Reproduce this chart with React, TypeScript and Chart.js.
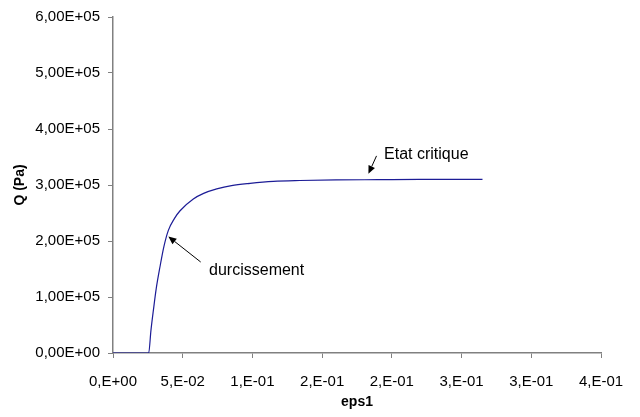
import React, { useEffect, useRef } from "react";
import { Chart, registerables } from "chart.js";

Chart.register(...registerables);

const eps1 = [0, 0.0256, 0.0272, 0.029, 0.031, 0.0337, 0.0365, 0.0397, 0.044, 0.0481, 0.0576, 0.065, 0.0744, 0.085, 0.0983, 0.115, 0.134, 0.16, 0.19, 0.22, 0.25, 0.265];
const qPa = [0, 0, 40000, 77000, 115000, 154000, 190000, 219000, 240000, 254000, 275000, 285000, 293000, 299000, 303000, 306500, 308000, 309000, 309500, 310000, 310000, 310000];

const xTickLabels = ["0,E+00", "5,E-02", "1,E-01", "2,E-01", "2,E-01", "3,E-01", "3,E-01", "4,E-01"];
const yTickLabels = ["0,00E+00", "1,00E+05", "2,00E+05", "3,00E+05", "4,00E+05", "5,00E+05", "6,00E+05"];

const annotations = [
  { text: "durcissement", tx: 0.0689, ty: 147700, ax0: 0.0629, ay0: 162500, ax1: 0.0397, ay1: 208000 },
  { text: "Etat critique", tx: 0.1944, ty: 354000, ax0: 0.189, ay0: 352000, ax1: 0.1832, ay1: 320000 },
];

const annotationPlugin = {
  id: "annot",
  afterDatasetsDraw(chart: any) {
    const { ctx, scales } = chart;
    const xs = scales.x;
    const ys = scales.y;
    ctx.save();
    ctx.fillStyle = "#000";
    ctx.strokeStyle = "#000";
    ctx.lineWidth = 1;
    ctx.font = "16px 'Liberation Sans', Arial, sans-serif";
    ctx.textBaseline = "middle";
    ctx.textAlign = "left";
    for (const a of annotations) {
      ctx.fillText(a.text, xs.getPixelForValue(a.tx), ys.getPixelForValue(a.ty));
      const x0 = xs.getPixelForValue(a.ax0);
      const y0 = ys.getPixelForValue(a.ay0);
      const x1 = xs.getPixelForValue(a.ax1);
      const y1 = ys.getPixelForValue(a.ay1);
      const ang = Math.atan2(y1 - y0, x1 - x0);
      const hl = 8;
      const hw = 3.5;
      const bx = x1 - hl * Math.cos(ang);
      const by = y1 - hl * Math.sin(ang);
      ctx.beginPath();
      ctx.moveTo(x0, y0);
      ctx.lineTo(bx, by);
      ctx.stroke();
      ctx.beginPath();
      ctx.moveTo(x1, y1);
      ctx.lineTo(bx + hw * Math.sin(ang), by - hw * Math.cos(ang));
      ctx.lineTo(bx - hw * Math.sin(ang), by + hw * Math.cos(ang));
      ctx.closePath();
      ctx.fill();
    }
    ctx.restore();
  },
};

export default function App() {
  const ref = useRef<HTMLCanvasElement>(null);
  useEffect(() => {
    const font = { family: "'Liberation Sans', Arial, sans-serif", size: 15 };
    const titleFont = { family: "'Liberation Sans', Arial, sans-serif", size: 14, weight: "bold" };
    const chart = new Chart(ref.current!, {
      type: "line",
      data: {
        datasets: [
          {
            data: eps1.map((x, i) => ({ x, y: qPa[i] })),
            borderColor: "#1c1c96",
            borderWidth: 1.2,
            pointRadius: 0,
            cubicInterpolationMode: "monotone",
            fill: false,
          },
        ],
      },
      options: {
        animation: false,
        responsive: false,
        maintainAspectRatio: false,
        layout: { padding: { left: 0, right: 39, top: 16, bottom: 0 } },
        plugins: { legend: { display: false }, tooltip: { enabled: false } },
        scales: {
          x: {
            type: "linear",
            min: 0,
            max: 0.35,
            afterFit: (s: any) => { s.height = 64; },
            afterBuildTicks: (s: any) => {
              s.ticks = xTickLabels.map((_, i) => ({ value: i * 0.05 }));
            },
            ticks: {
              font,
              color: "#000",
              padding: 15,
              maxRotation: 0,
              autoSkip: false,
              callback: (_v: any, i: number) => xTickLabels[i],
            },
            grid: { drawOnChartArea: false, tickLength: 5, color: "#808080" },
            border: { color: "#808080", width: 1.5 },
            title: { display: true, text: "eps1", color: "#000", font: titleFont, padding: { top: 0, bottom: 6 } },
          },
          y: {
            type: "linear",
            min: 0,
            max: 600000,
            afterFit: (s: any) => { s.width = 113; },
            afterBuildTicks: (s: any) => {
              s.ticks = yTickLabels.map((_, i) => ({ value: i * 100000 }));
            },
            ticks: {
              font,
              color: "#000",
              padding: 8,
              autoSkip: false,
              callback: (_v: any, i: number) => yTickLabels[i],
            },
            grid: { drawOnChartArea: false, tickLength: 5, color: "#808080" },
            border: { color: "#808080", width: 1.5 },
            title: { display: true, text: "Q (Pa)", color: "#000", font: titleFont, padding: { top: 12, bottom: 0 } },
          },
        },
      },
      plugins: [annotationPlugin],
    } as any);
    return () => chart.destroy();
  }, []);
  return (
    <div style={{ position: "fixed", left: 0, top: 0, width: 640, height: 417, background: "#fff" }}>
      <canvas ref={ref} width={640} height={417} style={{ width: 640, height: 417 }} />
    </div>
  );
}
